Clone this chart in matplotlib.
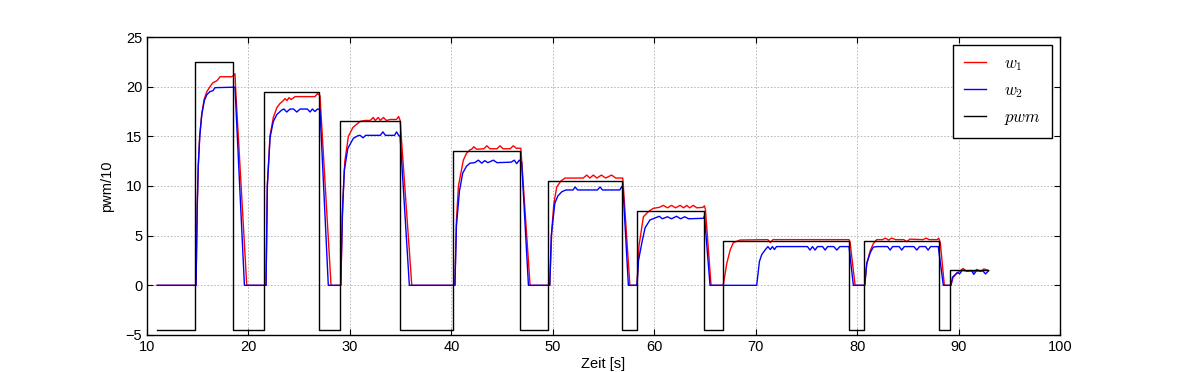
import matplotlib
matplotlib.use("Agg")
from matplotlib import pyplot as plt

plt.rcParams['font.family'] = ['Liberation Sans', 'DejaVu Sans']
plt.rcParams['mathtext.fontset'] = 'cm'

# pwm signal (step values, held until next time)
pwm_t = [11.0, 14.7, 18.45, 21.5, 27.0, 29.0, 34.9, 40.2, 46.8, 49.55,
         56.85, 58.3, 64.95, 66.75, 79.23, 80.7, 88.08, 89.15, 92.95]
pwm = [-4.5, 22.5, -4.5, 19.5, -4.5, 16.5, -4.5, 13.5, -4.5, 10.5,
       -4.5, 7.5, -4.5, 4.5, -4.5, 4.5, -4.5, 1.5, 1.5]

# w1 (red)
w1_t = [11.0, 14.83, 14.95, 15.05, 15.2, 15.4, 15.65, 15.9, 16.2, 16.5, 16.9, 17.2, 18.35, 18.5, 18.67, 18.75, 19.83,
        21.73, 21.86, 22.13, 22.45, 22.8, 23.1, 23.44, 23.6, 23.8, 24.0, 24.2, 24.6, 26.56, 26.8, 27.05, 28.14,
        29.1, 29.3, 29.5, 29.85, 30.3, 31.0, 31.5, 32.0, 32.3, 32.5, 32.8, 33.0, 33.3, 33.6, 34.0, 34.6, 34.8, 34.95, 36.1,
        40.35, 40.5, 40.7, 41.18, 41.5, 41.84, 42.0, 42.2, 42.5, 43.2, 43.5, 43.8, 44.5, 44.8, 45.1, 45.8, 46.1, 46.4, 46.85, 47.76,
        49.7, 49.9, 50.1, 50.39, 50.8, 51.2, 53.0, 53.35, 53.65, 54.0, 54.35, 54.8, 55.2, 55.8, 56.2, 56.9, 57.6,
        58.3, 58.5, 58.93, 59.4, 59.9, 60.5, 60.9, 61.3, 61.7, 62.1, 62.55, 62.9, 63.2, 63.5, 63.85, 64.2, 64.8, 64.95, 65.05, 65.6,
        66.8, 67.15, 67.5, 67.8, 68.46, 71.2, 71.45, 71.7, 79.2, 79.3, 79.8,
        80.75, 80.95, 81.3, 81.6, 81.93, 82.5, 82.8, 83.1, 83.4, 83.8, 84.6, 84.9, 85.2, 86.5, 86.8, 87.1, 87.9, 88.05, 88.2, 88.6,
        89.25, 89.45, 89.8, 90.1, 90.45, 90.8, 91.2, 91.5, 91.8, 92.2, 92.5, 92.95]
w1 = [0, 0, 8.0, 12.0, 15.2, 17.3, 18.8, 19.5, 20.0, 20.4, 20.6, 21.0, 21.0, 21.1, 21.3, 19.5, 0,
      0, 10.1, 15.1, 16.9, 17.9, 18.3, 18.6, 18.8, 18.6, 18.9, 18.7, 19.0, 19.0, 19.3, 19.1, 0,
      0, 8.5, 12.5, 15.0, 15.9, 16.5, 16.6, 16.6, 16.9, 16.6, 16.9, 16.6, 16.9, 16.6, 16.7, 16.7, 17.0, 16.6, 0,
      0, 6.5, 10.0, 12.6, 13.3, 13.65, 13.7, 13.95, 13.7, 13.75, 14.05, 13.75, 13.75, 14.05, 13.75, 13.75, 14.05, 13.8, 13.8, 0,
      0, 5.5, 8.2, 9.9, 10.5, 10.8, 10.8, 11.1, 10.8, 11.1, 10.8, 11.1, 10.8, 11.1, 10.8, 10.8, 0,
      0, 4.0, 6.9, 7.4, 7.75, 7.85, 8.05, 7.8, 8.05, 7.8, 8.05, 7.8, 8.05, 7.8, 8.05, 7.8, 7.85, 8.0, 7.6, 0,
      0, 2.2, 3.6, 4.3, 4.56, 4.6, 4.3, 4.6, 4.6, 4.4, 0,
      0, 2.2, 3.5, 4.2, 4.6, 4.6, 4.75, 4.55, 4.75, 4.6, 4.6, 4.4, 4.65, 4.6, 4.75, 4.6, 4.6, 4.75, 4.3, 0,
      0, 0.8, 1.2, 1.4, 1.7, 1.4, 1.5, 1.35, 1.6, 1.4, 1.65, 1.5]

# w2 (blue)
w2_t = [11.0, 14.83, 14.95, 15.05, 15.2, 15.4, 15.65, 15.9, 16.2, 16.5, 16.7, 18.67, 19.6,
        21.73, 21.86, 22.13, 22.45, 22.8, 23.28, 23.5, 23.77, 24.1, 24.45, 24.76, 25.1, 25.8, 26.07, 26.3, 26.56, 26.8, 27.05, 27.87,
        29.1, 29.25, 29.45, 29.8, 30.34, 30.8, 31.0, 31.3, 31.55, 33.0, 33.25, 33.5, 34.4, 34.6, 34.8, 34.95, 35.86,
        40.35, 40.5, 40.8, 41.12, 41.5, 41.84, 42.3, 42.66, 43.0, 43.3, 43.6, 44.14, 44.5, 45.9, 46.2, 46.44, 46.7, 46.93, 47.6,
        49.7, 49.85, 50.2, 50.5, 50.9, 51.3, 52.0, 52.2, 52.45, 54.4, 54.66, 54.9, 56.6, 56.8, 56.93, 57.45,
        58.3, 58.45, 58.77, 59.1, 59.58, 60.0, 60.5, 60.8, 61.3, 61.7, 62.2, 62.6, 63.0, 63.4, 64.9, 64.95, 65.5,
        66.8, 70.1, 70.37, 70.6, 70.93, 71.2, 71.45, 71.65, 71.85, 72.05, 75.1, 75.36, 75.6, 75.85, 76.1, 76.6, 76.84, 77.1,
        77.7, 78.0, 78.3, 79.2, 79.63,
        80.75, 80.95, 81.3, 81.6, 82.0, 83.0, 83.26, 83.5, 84.15, 84.4, 84.65, 85.6, 85.88, 86.15, 86.75, 87.0, 87.25, 88.0, 88.5,
        89.25, 89.4, 89.7, 89.9, 90.1, 90.35, 91.0, 91.3, 91.5, 91.75, 92.4, 92.65, 92.95]
w2 = [0, 0, 8.0, 12.0, 15.0, 17.2, 18.6, 19.2, 19.5, 19.6, 19.9, 19.95, 0,
      0, 10.0, 14.9, 16.5, 17.2, 17.65, 17.75, 17.45, 17.75, 17.75, 17.45, 17.75, 17.75, 17.45, 17.75, 17.5, 17.75, 17.7, 0,
      0, 7.0, 11.6, 13.8, 14.8, 15.07, 15.1, 14.85, 15.1, 15.1, 15.45, 15.1, 15.1, 15.45, 15.1, 15.0, 0,
      0, 6.0, 9.5, 11.3, 12.0, 12.3, 12.35, 12.6, 12.3, 12.55, 12.35, 12.6, 12.35, 12.4, 12.6, 12.25, 12.6, 12.4, 0,
      0, 5.0, 8.26, 9.0, 9.43, 9.6, 9.6, 9.9, 9.6, 9.6, 9.9, 9.6, 9.6, 9.95, 9.6, 0,
      0, 2.5, 4.23, 5.8, 6.58, 6.75, 6.95, 6.7, 6.9, 6.7, 6.95, 6.7, 6.9, 6.7, 6.75, 7.0, 0,
      0, 0, 2.4, 3.1, 3.56, 3.9, 3.6, 3.9, 3.6, 3.9, 3.9, 3.55, 3.9, 3.55, 3.9, 3.9, 3.55, 3.9,
      3.9, 3.55, 3.9, 3.9, 0,
      0, 2.2, 3.3, 3.85, 3.9, 3.9, 3.55, 3.9, 3.9, 3.55, 3.9, 3.9, 3.55, 3.9, 3.9, 3.55, 3.9, 3.9, 0,
      0, 0.8, 1.1, 1.3, 1.15, 1.5, 1.45, 1.45, 1.1, 1.45, 1.45, 1.15, 1.45]

fig = plt.figure(figsize=(11.8, 3.72), dpi=100)
ax = fig.add_axes([0.1246, 0.0995, 0.7737, 0.801])

ax.plot(w1_t, w1, color='r', lw=1.0, label='$w_1$')
ax.plot(w2_t, w2, color='b', lw=1.0, label='$w_2$')
ax.step(pwm_t, pwm, where='post', color='k', lw=1.0, label='$pwm$')

ax.set_xlim(10, 100)
ax.set_ylim(-5, 25)
ax.set_xticks(range(10, 101, 10))
ax.set_yticks(range(-5, 26, 5))
ax.tick_params(direction='in', top=True, right=True, labelsize=10.5, length=4, width=0.8)
ax.grid(True, color='#b0b0b0', linestyle=(0, (2, 2)), linewidth=0.6)
for s in ax.spines.values():
    s.set_linewidth(1.0)

ax.set_xlabel('Zeit [s]', fontsize=10.5, labelpad=2)
ax.set_ylabel('pwm/10', fontsize=10.5, labelpad=8)

leg = ax.legend(loc='upper right', fontsize=12, fancybox=False, framealpha=1,
                edgecolor='k', handlelength=1.3, handletextpad=1.1,
                labelspacing=0.6, borderpad=0.65, borderaxespad=0.5)
leg.get_frame().set_linewidth(1.0)

plt.savefig('out.png', dpi=100)
